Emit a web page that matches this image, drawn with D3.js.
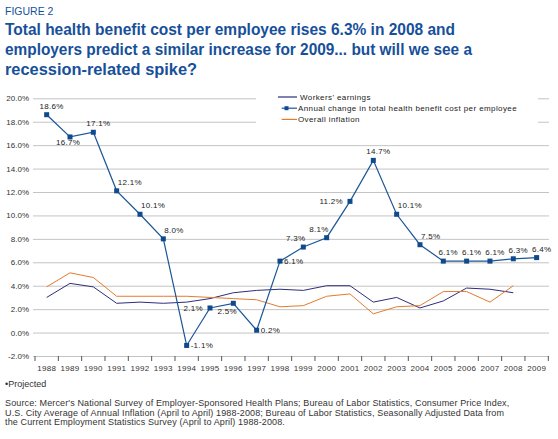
<!DOCTYPE html>
<html>
<head>
<meta charset="UTF-8">
<title>Figure 2</title>
<script src="https://d3js.org/d3.v7.min.js"></script>
<style>
  body { margin: 0; padding: 0; background: #fff; }
  svg { display: block; font-family: "Liberation Sans", Arial, sans-serif; }
</style>
</head>
<body>
<svg></svg>
<script>
const years = ["1988","1989","1990","1991","1992","1993","1994","1995","1996","1997","1998",
               "1999","2000","2001","2002","2003","2004","2005","2006","2007","2008","2009"];
const healthCost = [18.6,16.7,17.1,12.1,10.1,8.0,-1.1,2.1,2.5,0.2,6.1,7.3,8.1,11.2,14.7,10.1,7.5,6.1,6.1,6.1,6.3,6.4];
const earnings   = [3.0,4.2,3.9,2.5,2.6,2.5,2.6,2.9,3.4,3.6,3.7,3.6,4.0,4.0,2.6,3.0,2.1,2.7,3.8,3.7,3.4,null];
const inflation  = [3.9,5.1,4.7,3.1,3.1,3.1,3.1,3.0,2.9,2.8,2.2,2.3,3.1,3.3,1.6,2.2,2.3,3.5,3.5,2.6,4.0,null];
const yTicks = [-2,0,2,4,6,8,10,12,14,16,18,20];
const seriesNames = ["Workers' earnings", "Annual change in total health benefit cost per employee", "Overall inflation"];

// where each value label sits relative to its marker
const labelPlace = ["top","bottom","top","topright","topright","topright","right","left","bottomleft","right","right",
                    "topleft","topleft","left","top","topright","topright","top","top","top","top","top"];

const width = 558, height = 439;
const svg = d3.select("svg").attr("width", width).attr("height", height);

const x = d3.scaleBand().domain(years).range([35, 548.3]);
const y = d3.scaleLinear().domain([-2, 20]).range([356, 98.3]);
const cx = d => x(d) + x.bandwidth() / 2;

const colHealth = "#1b5697", colEarn = "#2d2d7c", colInfl = "#e27b2e", titleCol = "#17509a";

// titles
svg.append("text").attr("x", 5).attr("y", 15)
  .attr("font-size", 10.5).attr("fill", titleCol).text("FIGURE 2");
const titleLines = ["Total health benefit cost per employee rises 6.3% in 2008 and",
                    "employers predict a similar increase for 2009... but will we see a",
                    "recession-related spike?"];
const titleWidths = [450, 467, 192];
svg.append("g").selectAll("text").data(titleLines).join("text")
  .attr("x", 5).attr("y", (d, i) => 35 + i * 20)
  .attr("font-size", 16).attr("font-weight", "bold").attr("fill", titleCol)
  .attr("textLength", (d, i) => titleWidths[i]).attr("lengthAdjust", "spacingAndGlyphs")
  .text(d => d);

// gridlines
svg.append("g").selectAll("line").data(yTicks).join("line")
  .attr("x1", 33).attr("x2", 549)
  .attr("y1", d => y(d) + 0.5).attr("y2", d => y(d) + 0.5)
  .attr("stroke", "#c4c4c4").attr("stroke-width", 1);

// y labels
svg.append("g").selectAll("text").data(yTicks).join("text")
  .attr("x", 29).attr("y", d => y(d) + 3)
  .attr("text-anchor", "end").attr("font-size", 8).attr("fill", "#333")
  .text(d => d.toFixed(1) + "%");

// x axis
const xAxis = d3.axisBottom(x).tickSize(0).tickPadding(9);
const gx = svg.append("g").attr("transform", `translate(0,${y(-2)})`).call(xAxis);
gx.select(".domain").remove();
gx.selectAll("text").attr("font-size", 8).attr("fill", "#333").attr("letter-spacing", 0.3)
  .attr("font-family", "Liberation Sans, Arial, sans-serif");
svg.append("g").selectAll("line").data(d3.range(years.length + 1)).join("line")
  .attr("x1", i => 35 + i * x.step()).attr("x2", i => 35 + i * x.step())
  .attr("y1", y(-2)).attr("y2", y(-2) + 5)
  .attr("stroke", "#555");

// lines
const lineGen = d3.line().defined(d => d.v !== null).x(d => cx(d.year)).y(d => y(d.v));
const toPts = arr => arr.map((v, i) => ({year: years[i], v}));

svg.append("path").datum(toPts(earnings)).attr("d", lineGen)
  .attr("fill", "none").attr("stroke", colEarn).attr("stroke-width", 1);
svg.append("path").datum(toPts(inflation)).attr("d", lineGen)
  .attr("fill", "none").attr("stroke", colInfl).attr("stroke-width", 1);
svg.append("path").datum(toPts(healthCost)).attr("d", lineGen)
  .attr("fill", "none").attr("stroke", colHealth).attr("stroke-width", 1.2);
svg.append("g").selectAll("rect").data(toPts(healthCost)).join("rect")
  .attr("x", d => cx(d.year) - 2.5).attr("y", d => y(d.v) - 2.5)
  .attr("width", 5).attr("height", 5).attr("fill", "#0e4a8c");

// value labels
const place = {
  top:        {dx: 5,  dy: -6, a: "middle"},
  bottom:     {dx: -2, dy: 8,  a: "middle"},
  topright:   {dx: 1,  dy: -6, a: "start"},
  right:      {dx: 4,  dy: 3,  a: "start"},
  left:       {dx: -7, dy: 3,  a: "end"},
  bottomleft: {dx: -6, dy: 11, a: "middle"},
  topleft:    {dx: 2,  dy: -6, a: "end"}
};
svg.append("g").selectAll("text").data(toPts(healthCost)).join("text")
  .attr("x", (d, i) => cx(d.year) + place[labelPlace[i]].dx)
  .attr("y", (d, i) => y(d.v) + place[labelPlace[i]].dy)
  .attr("text-anchor", (d, i) => place[labelPlace[i]].a)
  .attr("font-size", 8).attr("fill", "#222").attr("letter-spacing", 0.3)
  .text(d => d.v.toFixed(1) + "%");

// legend
const lg = svg.append("g");
lg.append("rect").attr("x", 256).attr("y", 88).attr("width", 282).attr("height", 42).attr("fill", "#fff");
const legendRows = [
  {name: seriesNames[0], col: colEarn, x1: 278, marker: false},
  {name: seriesNames[1], col: colHealth, x1: 281.7, marker: true},
  {name: seriesNames[2], col: colInfl, x1: 281.7, marker: false}
];
const lr = lg.selectAll("g").data(legendRows).join("g")
  .attr("transform", (d, i) => `translate(0,${97 + i * 11.2})`);
lr.append("line").attr("x1", d => d.x1).attr("x2", 297).attr("stroke", d => d.col).attr("stroke-width", 1.2);
lr.filter(d => d.marker).append("rect").attr("x", 284.5).attr("y", -2).attr("width", 4).attr("height", 4).attr("fill", "#0e4a8c");
lr.append("text").attr("x", (d, i) => i === 0 ? 300 : 298).attr("y", 3)
  .attr("font-size", 8).attr("fill", "#222").attr("letter-spacing", 0.4).text(d => d.name);

// footnotes
svg.append("text").attr("x", 5).attr("y", 387).attr("font-size", 9).attr("fill", "#333").text("\u2022Projected");
const sourceLines = [
  "Source: Mercer's National Survey of Employer-Sponsored Health Plans; Bureau of Labor Statistics, Consumer Price Index,",
  "U.S. City Average of Annual Inflation (April to April) 1988-2008; Bureau of Labor Statistics, Seasonally Adjusted Data from",
  "the Current Employment Statistics Survey (April to April) 1988-2008."
];
svg.append("g").selectAll("text").data(sourceLines).join("text")
  .attr("x", 5).attr("y", (d, i) => 406 + i * 9.5)
  .attr("font-size", 9).attr("fill", "#333").attr("letter-spacing", 0.13).text(d => d);
</script>
</body>
</html>
